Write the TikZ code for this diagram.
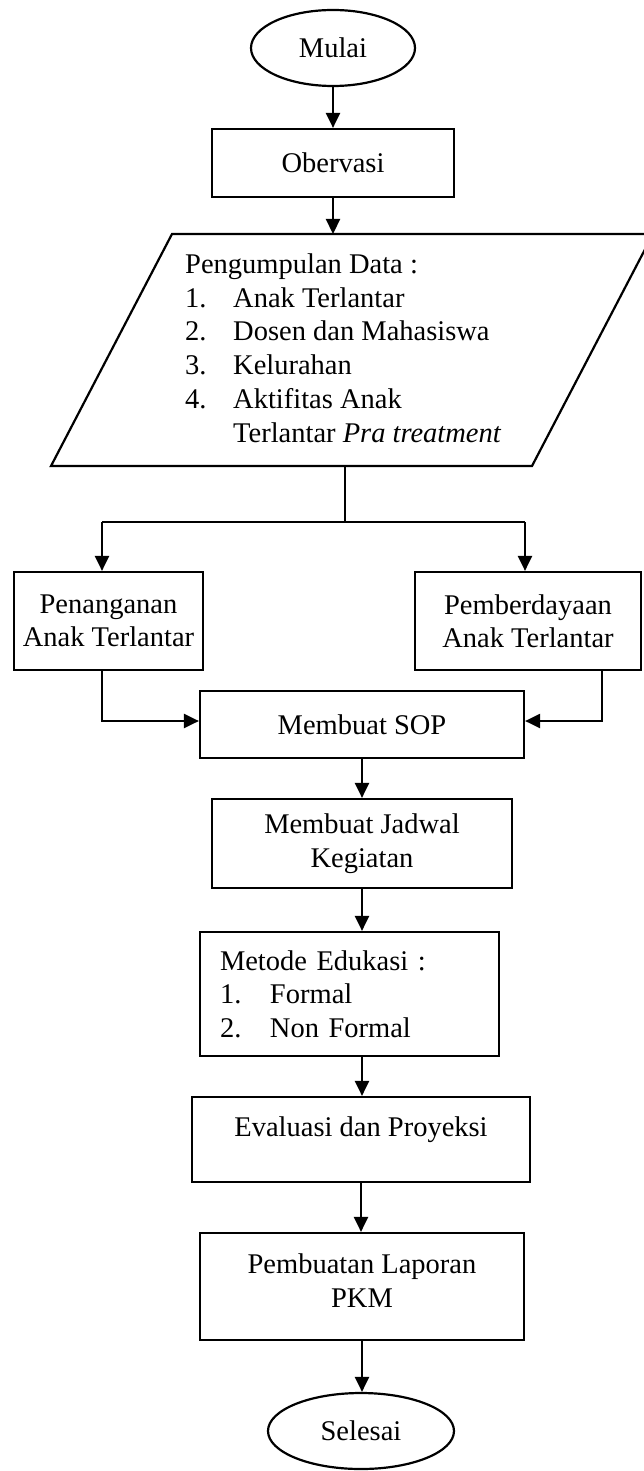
\documentclass[tikz,border=0pt]{standalone}
\usepackage{fontspec}
\setmainfont{Liberation Serif}
\usetikzlibrary{arrows.meta,shapes.geometric}
\tikzset{
  box/.style={draw, line width=2.2pt, inner sep=0pt, align=center,
    font=\fontsize{28.5}{33.5}\selectfont},
  term/.style={box, ellipse},
  arr/.style={line width=2.2pt, -{Triangle[length=15pt,width=14pt]}},
  ln/.style={line width=2.2pt},
}
\begin{document}
\begin{tikzpicture}[x=1pt,y=-1pt]
\useasboundingbox (0,0) rectangle (644,1471);
% start
\node[term, minimum width=164pt, minimum height=76pt] (mulai) at (333,48) {Mulai};
\node[box, minimum width=242pt, minimum height=68pt] (obs) at (333,163) {Obervasi};
% data parallelogram
\coordinate (dTL) at (172,234);
\coordinate (dTR) at (653,234);
\coordinate (dBR) at (532,466);
\coordinate (dBL) at (51,466);
\draw[ln, line join=miter] (dTL) -- (dTR) -- (dBR) -- (dBL) -- cycle;
\coordinate (dataT) at (333,234);
\coordinate (dataB) at (345,466);
\coordinate (split) at (345,522);
\node[anchor=west, inner sep=0pt, align=left, font=\fontsize{28.5}{33.8}\selectfont] (data) at (185,348)
  {Pengumpulan Data :\\
   \makebox[48pt][l]{1.}Anak Terlantar\\
   \makebox[48pt][l]{2.}Dosen dan Mahasiswa\\
   \makebox[48pt][l]{3.}Kelurahan\\
   \makebox[48pt][l]{4.}Aktifitas Anak\\
   \hspace*{48pt}Terlantar \textit{Pra treatment}};
% branches
\node[box, minimum width=189pt, minimum height=98pt] (pen) at (108.5,621) {Penanganan\\Anak Terlantar};
\node[box, minimum width=226pt, minimum height=98pt] (pem) at (528,621) {Pemberdayaan\\Anak Terlantar};
\node[box, minimum width=324pt, minimum height=67pt] (sop) at (362,724.5) {Membuat SOP};
\node[box, minimum width=300pt, minimum height=89pt] (jad) at (362,843.5) {Membuat Jadwal\\Kegiatan};
\node[box, minimum width=299pt, minimum height=124pt, align=left, text width=259pt] (met) at (349.5,994)
  {Metode Edukasi :\\
   \makebox[50pt][l]{1.}Formal\\
   \makebox[50pt][l]{2.}Non Formal};
\node[box, minimum width=338pt, minimum height=85pt] (eva) at (361,1139.5) {Evaluasi dan Proyeksi\\[-8.5pt]\mbox{}};
\node[box, minimum width=324pt, minimum height=107pt] (rep) at (362,1286.5) {Pembuatan Laporan\\PKM\\[-21.5pt]\mbox{}};
\node[term, minimum width=186pt, minimum height=76pt] (sel) at (361,1431) {Selesai};
% connectors
\draw[arr] (mulai.south) -- (obs.north);
\draw[arr] (obs.south) -- (dataT);
\draw[ln] (dataB) -- (split);
\draw[ln] ([xshift=-6.5pt]pen.north |- split) -- ([xshift=-3pt]pem.north |- split);
\draw[arr] ([xshift=-6.5pt]pen.north |- split) -- ([xshift=-6.5pt]pen.north);
\draw[arr] ([xshift=-3pt]pem.north |- split) -- ([xshift=-3pt]pem.north);
\draw[arr] ([xshift=-6.5pt]pen.south) |- ([yshift=3.5pt]sop.west);
\draw[arr] ([xshift=74pt]pem.south) |- ([yshift=3.5pt]sop.east);
\draw[arr] (sop.south) -- (jad.north);
\draw[arr] (jad.south) -- (jad.south |- met.north);
\draw[arr] (jad.south |- met.south) -- (jad.south |- eva.north);
\draw[arr] (eva.south) -- (eva.south |- rep.north);
\draw[arr] (rep.south) -- (rep.south |- sel.north);
\end{tikzpicture}
\end{document}
